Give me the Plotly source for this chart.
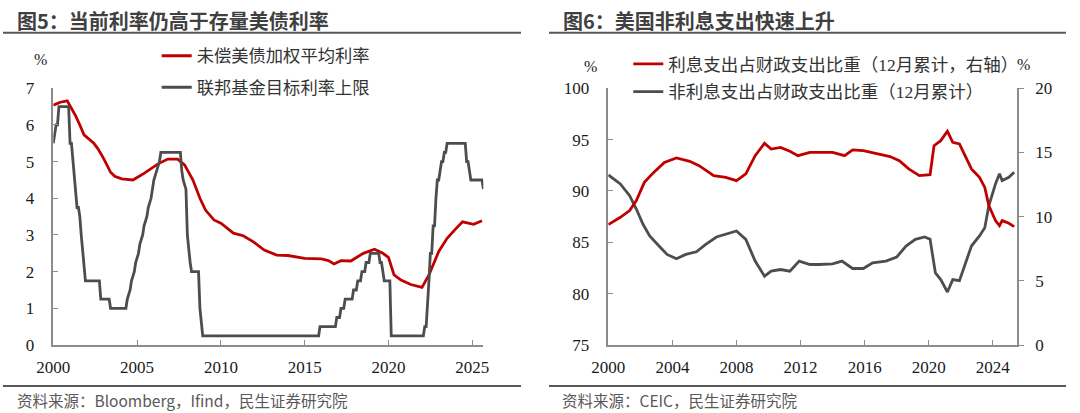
import plotly.graph_objects as go

W, H = 1080, 413

# ---------------- Data: left panel ----------------
avg_rate_dates = ["2000-01","2000-06","2000-11","2001-05","2001-08","2001-11","2002-06","2002-09",
                  "2003-01","2003-06","2003-09","2004-02","2004-10","2005-06","2006-04","2006-11",
                  "2007-06","2007-11","2008-05","2008-10","2009-02","2009-08","2010-01","2010-10",
                  "2011-05","2011-12","2012-08","2013-05","2014-01","2015-01","2016-01","2016-06",
                  "2016-10","2017-03","2017-10","2018-07","2019-03","2019-09","2020-01","2020-05",
                  "2020-10","2021-05","2022-01","2022-06","2023-01","2023-07","2024-01","2024-06",
                  "2025-02","2025-08"]
avg_rate_vals = [6.54,6.62,6.66,6.25,6.00,5.73,5.50,5.35,
                 5.09,4.71,4.60,4.53,4.50,4.68,4.94,5.07,
                 5.07,4.91,4.50,4.00,3.68,3.41,3.32,3.05,
                 2.98,2.82,2.59,2.45,2.44,2.36,2.35,2.30,
                 2.21,2.30,2.29,2.50,2.61,2.50,2.39,1.91,
                 1.77,1.65,1.57,1.91,2.55,2.91,3.16,3.36,
                 3.29,3.39]

fed_dates = ["2000-01","2000-02","2000-03","2000-04","2000-05","2000-12","2001-01","2001-02","2001-03",
             "2001-04","2001-05","2001-06","2001-07","2001-08","2001-09","2001-10","2001-11","2001-12",
             "2002-10","2002-11","2003-05","2003-06","2004-05","2004-06","2004-08","2004-09","2004-11",
             "2004-12","2005-02","2005-03","2005-05","2005-06","2005-08","2005-09","2005-11","2005-12",
             "2006-01","2006-03","2006-05","2006-06","2007-08","2007-09","2007-10","2007-12","2008-01",
             "2008-03","2008-04","2008-09","2008-10","2008-12","2015-11","2015-12","2016-11","2016-12",
             "2017-02","2017-03","2017-05","2017-06","2017-11","2017-12","2018-02","2018-03","2018-05",
             "2018-06","2018-08","2018-09","2018-11","2018-12","2019-06","2019-07","2019-08","2019-09",
             "2019-10","2020-02","2020-03","2022-02","2022-03","2022-04","2022-05","2022-06","2022-07",
             "2022-08","2022-09","2022-10","2022-11","2022-12","2023-01","2023-02","2023-03","2023-04",
             "2023-05","2023-06","2023-07","2024-08","2024-09","2024-10","2024-11","2024-12","2025-08",
             "2025-09"]
fed_vals = [5.5,5.75,6.0,6.0,6.5,6.5,5.5,5.5,5.0,
            4.5,4.0,3.75,3.75,3.5,3.0,2.5,2.0,1.75,
            1.75,1.25,1.25,1.0,1.0,1.25,1.5,1.75,2.0,
            2.25,2.5,2.75,3.0,3.25,3.5,3.75,4.0,4.25,
            4.5,4.75,5.0,5.25,5.25,4.75,4.5,4.25,3.0,
            2.25,2.0,2.0,1.0,0.25,0.25,0.5,0.5,0.75,
            0.75,1.0,1.0,1.25,1.25,1.5,1.5,1.75,1.75,
            2.0,2.0,2.25,2.25,2.5,2.5,2.25,2.25,2.0,
            1.75,1.75,0.25,0.25,0.5,0.5,1.0,1.75,2.5,
            2.5,3.25,3.25,4.0,4.5,4.5,4.75,5.0,5.0,
            5.25,5.25,5.5,5.5,5.0,5.0,4.75,4.5,4.5,
            4.25]

# ---------------- Data: right panel ----------------
int_dates = ["2000-01","2000-10","2001-05","2001-10","2002-04","2002-11","2003-07","2004-04","2005-02",
             "2005-09","2006-08","2007-05","2008-01","2008-08","2009-03","2009-10","2010-03","2010-10",
             "2011-05","2011-11","2012-08","2013-03","2014-01","2014-10","2015-04","2015-12","2016-10",
             "2017-08","2018-03","2018-10","2019-06","2020-02","2020-05","2020-10","2021-03","2021-07",
             "2021-12","2022-05","2022-09","2023-03","2023-07","2023-10","2024-03","2024-06","2024-08",
             "2025-01","2025-05"]
int_share = [9.38,9.95,10.47,11.25,12.67,13.45,14.23,14.57,14.31,
             13.97,13.20,13.06,12.80,13.33,14.75,15.71,15.27,15.40,
             15.09,14.75,15.01,15.01,15.01,14.75,15.20,15.14,14.89,
             14.68,14.36,13.72,13.20,13.27,15.53,15.92,16.65,15.79,
             15.66,14.62,13.72,13.06,12.28,10.86,9.69,9.30,9.69,
             9.48,9.22]

nonint_dates = ["2000-01","2000-10","2001-05","2001-10","2002-03","2002-08","2003-03","2003-09","2004-04",
                "2004-11","2005-07","2006-02","2006-10","2007-05","2008-01","2008-08","2009-03","2009-10",
                "2010-03","2010-10","2011-05","2011-12","2012-08","2013-03","2014-01","2014-08","2015-04",
                "2015-12","2016-07","2017-05","2018-01","2018-08","2019-03","2019-10","2020-02","2020-06",
                "2020-10","2021-03","2021-07","2021-12","2022-05","2022-09","2023-03","2023-07","2023-10",
                "2024-03","2024-06","2024-08","2025-01","2025-05"]
nonint_share = [91.57,90.69,89.54,88.24,86.76,85.62,84.64,83.82,83.40,
                83.82,84.08,84.80,85.52,85.78,86.10,85.29,83.17,81.70,
                82.19,82.35,82.19,83.17,82.84,82.84,82.90,83.17,82.45,
                82.45,83.00,83.17,83.56,84.64,85.29,85.52,85.29,82.02,
                81.37,80.16,81.37,81.27,83.17,84.64,85.62,86.43,88.56,
                90.69,91.67,91.01,91.33,91.82]

left_xticks = [2000, 2005, 2010, 2015, 2020, 2025]
right_xticks = [2000, 2004, 2008, 2012, 2016, 2020, 2024]

# ---------------- helpers ----------------
def to_year(d):
    y, m = d.split("-")
    return int(y) + (int(m) - 1) / 12.0

def px(x):
    return x / W

def py(y):
    return 1 - y / H

RED = "#C00000"
GRAY = "#4D4D4D"
AX = "#8C8C8C"
SERIF = "Liberation Serif"
CJK_SERIF = "Liberation Serif, Noto Sans CJK SC"
CJK = "Noto Sans CJK SC"
LW = 2.8

fig = go.Figure()

fig.add_trace(go.Scatter(x=[to_year(d) for d in avg_rate_dates], y=avg_rate_vals, mode="lines",
                         name="未偿美债加权平均利率", line=dict(color=RED, width=LW),
                         xaxis="x", yaxis="y", legend="legend", legendgroup="a"))
fig.add_trace(go.Scatter(x=[to_year(d) for d in fed_dates], y=fed_vals, mode="lines",
                         name="联邦基金目标利率上限", line=dict(color=GRAY, width=LW),
                         xaxis="x", yaxis="y", legend="legend", legendgroup="b"))
fig.add_trace(go.Scatter(x=[to_year(d) for d in int_dates], y=int_share, mode="lines",
                         name="利息支出占财政支出比重（12月累计，右轴）", line=dict(color=RED, width=LW),
                         xaxis="x2", yaxis="y3", legend="legend2", legendgroup="c"))
fig.add_trace(go.Scatter(x=[to_year(d) for d in nonint_dates], y=nonint_share, mode="lines",
                         name="非利息支出占财政支出比重（12月累计）", line=dict(color=GRAY, width=LW),
                         xaxis="x2", yaxis="y2", legend="legend2", legendgroup="d"))

y_dom = [py(345), py(88.3)]
tickfont = dict(family=SERIF, size=17, color="#1a1a1a")

axis_common = dict(showgrid=False, zeroline=False, showline=True, linecolor=AX, linewidth=1.5,
                   ticks="inside", ticklen=5, tickwidth=1.2, tickcolor=AX, tickfont=tickfont,
                   automargin=False)

fig.update_layout(
    width=W, height=H, margin=dict(l=0, r=0, t=0, b=0, autoexpand=False),
    paper_bgcolor="white", plot_bgcolor="white",
    showlegend=True,
    xaxis=dict(domain=[px(53.3), px(483.3)], range=[2000, 2025.66], anchor="y",
               tickmode="array", tickvals=left_xticks, ticktext=[str(v) for v in left_xticks],
               ticklabelstandoff=6, **axis_common),
    yaxis=dict(domain=y_dom, range=[0, 7], anchor="x", dtick=1, tick0=0,
               ticklabelstandoff=14, **axis_common),
    xaxis2=dict(domain=[px(608.3), px(1017)], range=[2000, 2025.51], anchor="y2",
                tickmode="array", tickvals=right_xticks, ticktext=[str(v) for v in right_xticks],
                ticklabelstandoff=6, **axis_common),
    yaxis2=dict(domain=y_dom, range=[75, 100], anchor="x2", dtick=5, tick0=75,
                ticklabelstandoff=14, **axis_common),
    yaxis3=dict(domain=y_dom, range=[0, 20], anchor="x2", overlaying="y2", side="right",
                dtick=5, tick0=0, showgrid=False, zeroline=False, showline=True, linecolor=AX,
                linewidth=1.5, ticks="outside", ticklen=5, tickwidth=1.2, tickcolor=AX,
                tickfont=tickfont, ticklabelstandoff=8, automargin=False),
    legend=dict(x=px(156.7), y=py(38), xanchor="left", yanchor="top", bgcolor="rgba(0,0,0,0)",
                font=dict(family=CJK_SERIF, size=17.3, color="#333333"), traceorder="grouped",
                tracegroupgap=6, borderwidth=0),
    legend2=dict(x=px(628.3), y=py(46), xanchor="left", yanchor="top", bgcolor="rgba(0,0,0,0)",
                 font=dict(family=CJK_SERIF, size=17.5, color="#333333"), traceorder="grouped",
                 tracegroupgap=2, borderwidth=0),
)

ann = []
def text(x, y, s, size, color, family, xanchor="center", bold=False):
    ann.append(dict(x=px(x), y=py(y), xref="paper", yref="paper", text=("<b>%s</b>" % s) if bold else s,
                    showarrow=False, xanchor=xanchor, yanchor="middle",
                    font=dict(size=size, color=color, family=family)))

text(15, 20.7, "图5：当前利率仍高于存量美债利率", 20, "#404040", CJK, "left", bold=True)
text(561, 20.7, "图6：美国非利息支出快速上升", 20, "#404040", CJK, "left", bold=True)
text(15, 400, "资料来源：Bloomberg，Ifind，民生证券研究院", 15.5, "#595959", CJK, "left")
text(560, 400, "资料来源：CEIC，民生证券研究院", 15.5, "#595959", CJK, "left")
text(40, 59.3, "%", 16, "#1a1a1a", SERIF)
text(590, 66.7, "%", 16, "#1a1a1a", SERIF)
text(1023.3, 64, "%", 16, "#1a1a1a", SERIF)

shapes = []
for (x0, x1) in [(3, 521), (549, 1066)]:
    for yy in (32.7, 386):
        shapes.append(dict(type="line", xref="paper", yref="paper", x0=px(x0), x1=px(x1),
                           y0=py(yy), y1=py(yy), line=dict(color="#595959", width=2)))

fig.update_layout(annotations=ann, shapes=shapes)
fig.write_html("out.html", config={"displayModeBar": False},
               post_script="document.body.style.margin='0px';document.body.style.overflow='hidden';")
